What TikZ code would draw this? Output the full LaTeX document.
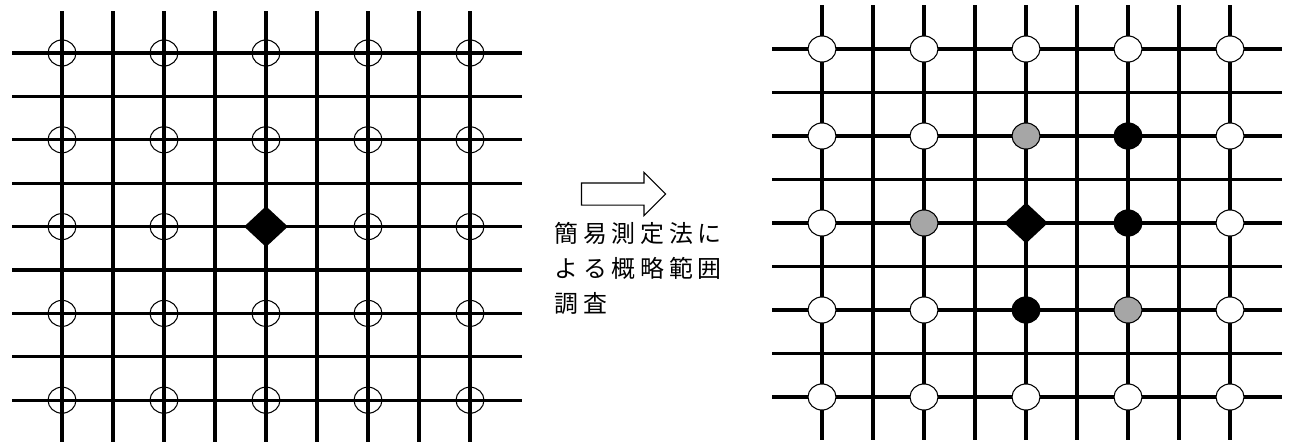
\documentclass[tikz,border=0pt]{standalone}
\usepackage{fontspec}
\newfontfamily\jpfont{Noto Sans CJK JP}
\usetikzlibrary{shapes.geometric,shapes.arrows}
\newcommand{\jgap}{\hspace{0.2em}}

\tikzset{
	gridline/.style={line width=1.8pt},
	openmark/.style={draw, ellipse, line width=0.6pt, minimum width=28*0.02cm, minimum height=26*0.02cm, inner sep=0pt},
	whitemark/.style={openmark, fill=white},
	graymark/.style={openmark, fill=black!35},
	blackmark/.style={openmark, fill=black},
	sourcemark/.style={diamond, fill=black, minimum width=44*0.02cm, minimum height=41*0.02cm, inner sep=0pt}
}

\begin{document}
\begin{tikzpicture}[x=0.02cm, y=-0.02cm]
	\useasboundingbox (0,0) rectangle (1289,444);
	
	% left grid
	\foreach \i in {0,...,8} {
		\draw[gridline] (62+51*\i,11) -- (62+51*\i,442);
		\draw[gridline] (12,53+43.4*\i) -- (522,53+43.4*\i);
	}
	\foreach \c in {0,...,4} {
		\foreach \r in {0,...,4} {
			\node[openmark] (L\c\r) at (62+102*\c,53+86.8*\r) {};
		}
	}
	\node[sourcemark] (Lsrc) at (266,226.6) {};
	
	% right grid
	\foreach \i in {0,...,8} {
		\draw[gridline] (822+51*\i,5) -- (822+51*\i,440);
		\draw[gridline] (772,49+43.5*\i) -- (1282,49+43.5*\i);
	}
	\foreach \c/\r in {0/0,1/0,2/0,3/0,4/0, 0/1,1/1,4/1, 0/2,4/2, 0/3,1/3,4/3, 0/4,1/4,2/4,3/4,4/4} {
		\node[whitemark] (R\c\r) at (822+102*\c,49+87*\r) {};
	}
	\node[graymark] (R21) at (1026,136) {};
	\node[blackmark] (R31) at (1128,136) {};
	\node[graymark] (R12) at (924,223) {};
	\node[sourcemark] (Rsrc) at (1026,223) {};
	\node[blackmark] (R32) at (1128,223) {};
	\node[blackmark] (R23) at (1026,310) {};
	\node[graymark] (R33) at (1128,310) {};
	
	% arrow and label
	\node[single arrow, draw, line width=0.6pt, minimum height=84*0.02cm,
		inner xsep=0pt, inner ysep=10.5*0.02cm, single arrow head extend=10.5*0.02cm,
		single arrow tip angle=90] (step) at (618,194) {};
	\node[anchor=north west, align=left, inner sep=0pt, font=\jpfont\fontsize{13.6}{19.9}\selectfont] (lbl) at (554,222)
		{簡\jgap 易\jgap 測\jgap 定\jgap 法\jgap に\\よ\jgap る\jgap 概\jgap 略\jgap 範\jgap 囲\\調\jgap 査};
	
\end{tikzpicture}
\end{document}
